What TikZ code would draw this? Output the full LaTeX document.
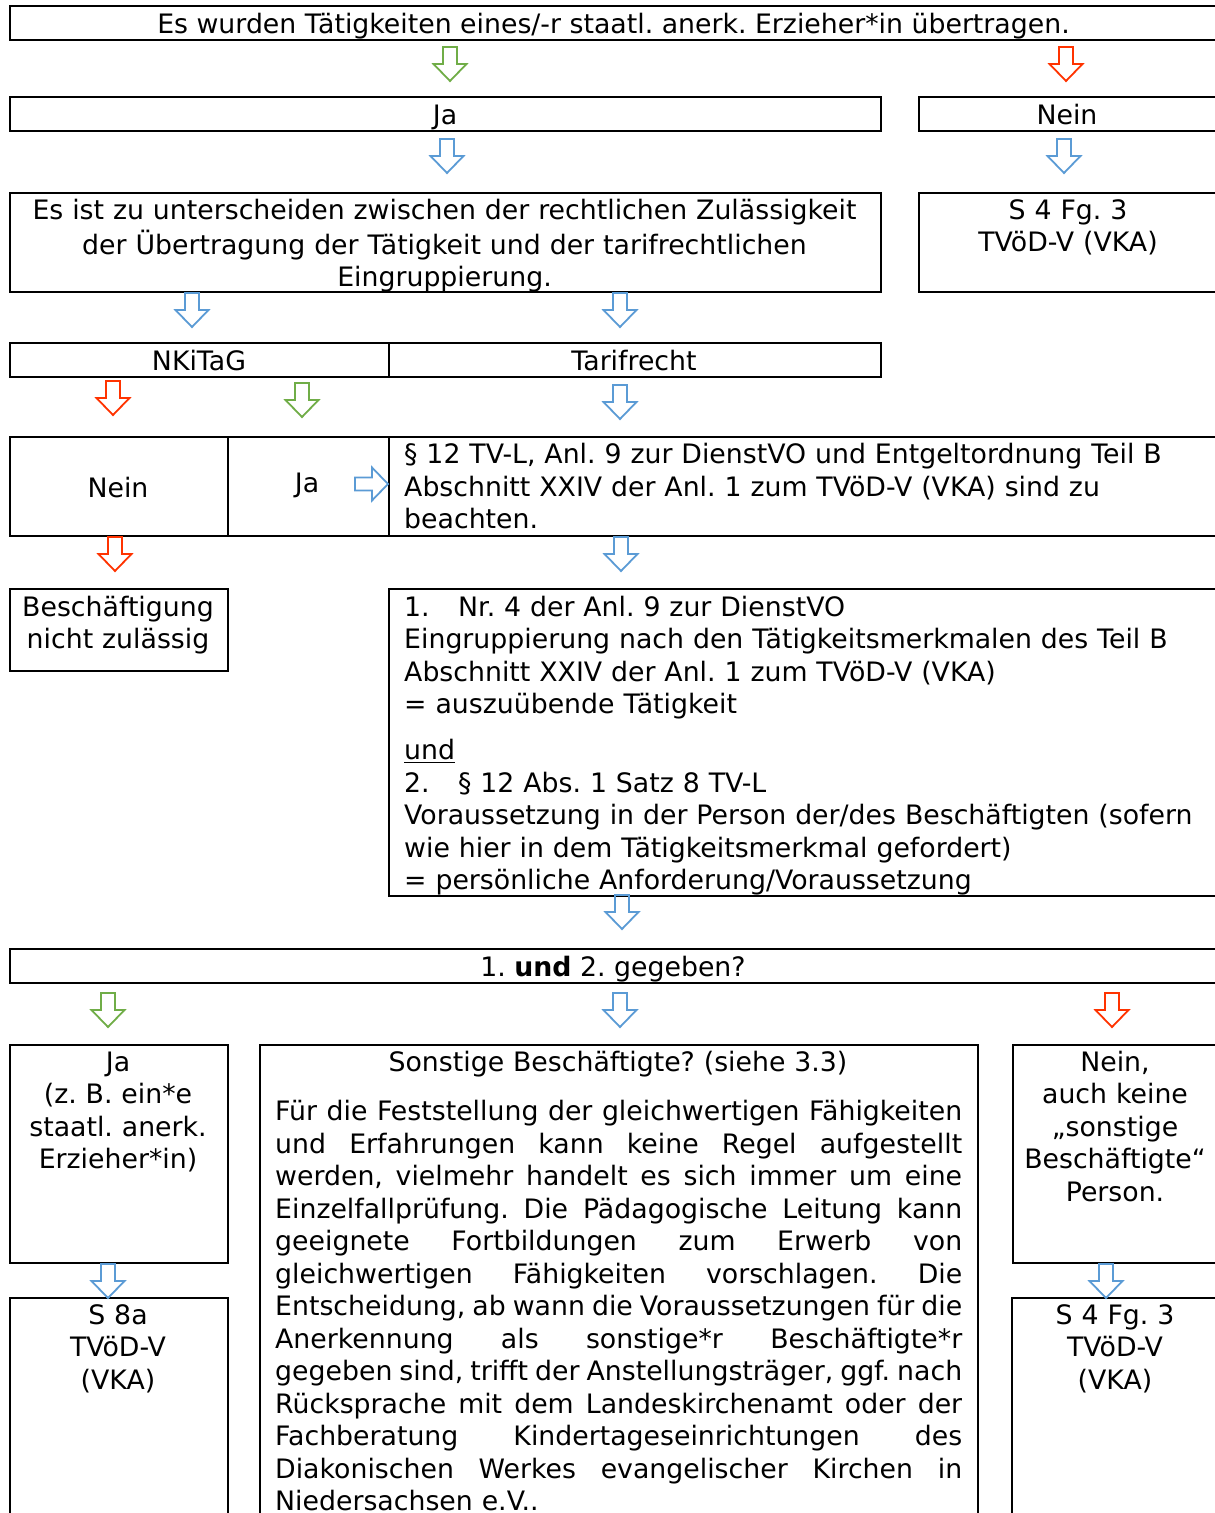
\documentclass[tikz,border=0pt]{standalone}
\usepackage{fontspec}
\setmainfont{DejaVu Sans}
\setlength\parindent{0pt}
\definecolor{agreen}{HTML}{70AD47}
\definecolor{ared}{HTML}{FF3300}
\definecolor{ablue}{HTML}{5B9BD5}
\newcommand\mfs{\fontsize{26.75}{32.5}\selectfont\frenchspacing}
\newcommand\jl[1]{\makebox[687pt][s]{\spaceskip=\fontdimen2\font plus 1fil minus 0.2em\relax #1}\\}
\tikzset{
  box/.style={draw, line width=2pt, rectangle, inner sep=0pt, anchor=north west},
  txt/.style={inner sep=0pt, font=\mfs},
  ctxt/.style={txt, anchor=north, align=center},
  pics/darr/.style={code={\draw[line width=1.8pt, #1, line join=miter]
     (-7,0) -- (7,0) -- (7,17) -- (16.5,17) -- (0,34) -- (-16.5,17) -- (-7,17) -- cycle;}},
  pics/rarr/.style={code={\draw[line width=1.8pt, #1, line join=miter]
     (0,-6.5) -- (17,-6.5) -- (17,-16.5) -- (33,0) -- (17,16.5) -- (17,6.5) -- (0,6.5) -- cycle;}},
}
\begin{document}
\begin{tikzpicture}[x=1pt,y=-1pt]
\fill[white] (0,0) rectangle (1215,1513);
\useasboundingbox (0,0) rectangle (1215,1513);
% boxes
\node[box, minimum width=1213pt, minimum height=34pt] (top) at (9,5) {};
\node[box, minimum width=871pt, minimum height=34pt] (ja1) at (9,96) {};
\node[box, minimum width=304pt, minimum height=34pt] (nein1) at (918,96) {};
\node[box, minimum width=871pt, minimum height=99pt] (diff) at (9,192) {};
\node[box, minimum width=304pt, minimum height=99pt] (s4a) at (918,192) {};
\node[box, minimum width=379pt, minimum height=34pt] (nkitag) at (9,342) {};
\node[box, minimum width=492pt, minimum height=34pt] (tarif) at (388,342) {};
\node[box, minimum width=218pt, minimum height=99pt] (nein2) at (9,436) {};
\node[box, minimum width=161pt, minimum height=99pt] (ja2) at (227,436) {};
\node[box, minimum width=834pt, minimum height=99pt] (par) at (388,436) {};
\node[box, minimum width=218pt, minimum height=82pt] (besch) at (9,588) {};
\node[box, minimum width=834pt, minimum height=307pt] (crit) at (388,588) {};
\node[box, minimum width=1213pt, minimum height=34pt] (given) at (9,948) {};
\node[box, minimum width=218pt, minimum height=218pt] (ja3) at (9,1044) {};
\node[box, minimum width=718pt, minimum height=486pt] (sonst) at (259,1044) {};
\node[box, minimum width=210pt, minimum height=218pt] (nein3) at (1012,1044) {};
\node[box, minimum width=218pt, minimum height=233pt] (s8a) at (9,1297) {};
\node[box, minimum width=211pt, minimum height=233pt] (s4b) at (1011,1297) {};
% texts
\node[txt, anchor=base] (ttop) at (613.5,33) {Es wurden Tätigkeiten eines/-r staatl. anerk. Erzieher*in übertragen.};
\node[txt, anchor=base] (tja1) at (445,124) {Ja};
\node[txt, anchor=base] (tnein1) at (1067,124) {Nein};
\node[ctxt, text width=871pt] (tdiff) at (444.5,196.25) {\strut Es ist zu unterscheiden zwischen der rechtlichen Zulässigkeit\\der Übertragung der Tätigkeit und der tarifrechtlichen\\Eingruppierung.};
\node[ctxt, text width=300pt] (ts4a) at (1068,196.25) {\strut S 4 Fg. 3\\TVöD-V (VKA)};
\node[txt, anchor=base] (tnkitag) at (199,370) {NKiTaG};
\node[txt, anchor=base] (ttarif) at (634,370) {Tarifrecht};
\node[txt, anchor=base] (tnein2) at (118,497) {Nein};
\node[txt, anchor=base] (tja2) at (307,492) {Ja};
\node[txt, anchor=north west, align=left, text width=810pt] (tpar) at (404,441) {\strut § 12 TV-L, Anl. 9 zur DienstVO und Entgeltordnung Teil B\\Abschnitt XXIV der Anl. 1 zum TVöD-V (VKA) sind zu\\beachten.};
\node[ctxt, text width=216pt] (tbesch) at (118,593.25) {\strut Beschäftigung\\nicht zulässig};
\node[txt, anchor=north west, align=left, text width=810pt] (tcrit) at (404,593.5) {\strut\makebox[54pt][l]{1.}Nr. 4 der Anl. 9 zur DienstVO\\Eingruppierung nach den Tätigkeitsmerkmalen des Teil B\\Abschnitt XXIV der Anl. 1 zum TVöD-V (VKA)\\= auszuübende Tätigkeit\\[13.5pt]\underline{und}\\\makebox[54pt][l]{2.}§ 12 Abs. 1 Satz 8 TV-L\\Voraussetzung in der Person der/des Beschäftigten (sofern\\wie hier in dem Tätigkeitsmerkmal gefordert)\\= persönliche Anforderung/Voraussetzung};
\node[txt, anchor=base] (tgiven) at (613,976) {1. \textbf{und} 2. gegeben?};
\node[ctxt, text width=216pt] (tja3) at (118,1048.5) {\strut Ja\\(z. B. ein*e\\staatl. anerk.\\Erzieher*in)};
\node[ctxt, text width=716pt] (tsonst) at (618,1048.5) {\strut Sonstige Beschäftigte? (siehe 3.3)};
\node[txt, anchor=north west, align=left, text width=687pt] (tpara) at (275,1098) {\strut
\jl{Für die Feststellung der gleichwertigen Fähigkeiten}
\jl{und Erfahrungen kann keine Regel aufgestellt}
\jl{werden, vielmehr handelt es sich immer um eine}
\jl{Einzelfallprüfung. Die Pädagogische Leitung kann}
\jl{geeignete Fortbildungen zum Erwerb von}
\jl{gleichwertigen Fähigkeiten vorschlagen. Die}
\jl{Entscheidung, ab wann die Voraussetzungen für die}
\jl{Anerkennung als sonstige*r Beschäftigte*r}
\jl{gegeben sind, trifft der Anstellungsträger, ggf. nach}
\jl{Rücksprache mit dem Landeskirchenamt oder der}
\jl{Fachberatung Kindertageseinrichtungen des}
\jl{Diakonischen Werkes evangelischer Kirchen in}
Niedersachsen e.V..};
\node[ctxt, text width=208pt] (tnein3) at (1115,1048.5) {\strut Nein,\\auch keine\\„sonstige\\Beschäftigte“\\Person.};
\node[ctxt, text width=216pt] (ts8a) at (118,1301.5) {\strut S 8a\\TVöD-V\\(VKA)};
\node[ctxt, text width=209pt] (ts4b) at (1115,1301.5) {\strut S 4 Fg. 3\\TVöD-V\\(VKA)};
% arrows
\pic at (450,47) {darr=agreen};
\pic at (1066,47) {darr=ared};
\pic at (447,139) {darr=ablue};
\pic at (1064,139) {darr=ablue};
\pic at (192,293) {darr=ablue};
\pic at (620,293) {darr=ablue};
\pic at (113,381) {darr=ared};
\pic at (302,383) {darr=agreen};
\pic at (620,385) {darr=ablue};
\pic at (355,484) {rarr=ablue};
\pic at (115,537) {darr=ared};
\pic at (621,537) {darr=ablue};
\pic at (622,895) {darr=ablue};
\pic at (108,993) {darr=agreen};
\pic at (620,993) {darr=ablue};
\pic at (1112,993) {darr=ared};
\pic at (108,1264) {darr=ablue};
\pic at (1106,1264) {darr=ablue};
\end{tikzpicture}
\end{document}
